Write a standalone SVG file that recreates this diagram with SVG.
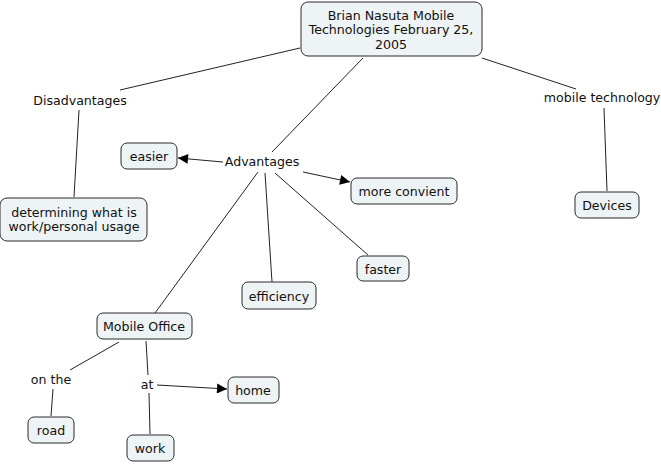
<svg xmlns="http://www.w3.org/2000/svg" width="661" height="464" viewBox="0 0 661 464">
<style>
.box{fill:#eef3f5;stroke:#2b2b2b;stroke-width:1}
text{font-family:"DejaVu Sans",Verdana,sans-serif;font-size:12.6px;fill:#111;text-anchor:middle}
.ln{stroke:#222;stroke-width:1;fill:none}
</style>
<defs>
<marker id="ah" viewBox="0 0 10 10" refX="10" refY="5" markerWidth="12" markerHeight="10" markerUnits="userSpaceOnUse" orient="auto">
<path d="M0,0 L10,5 L0,10 z" fill="#000"/>
</marker>
</defs>
<rect width="661" height="464" fill="#fff"/>
<g id="connectors">
<line class="ln" x1="300" y1="48" x2="120" y2="90"/>
<line class="ln" x1="363" y1="58" x2="272" y2="152"/>
<line class="ln" x1="482" y1="58" x2="576" y2="89"/>
<line class="ln" x1="79" y1="110" x2="74" y2="197"/>
<line class="ln" x1="223" y1="162" x2="178" y2="158" marker-end="url(#ah)"/>
<line class="ln" x1="303" y1="172" x2="350" y2="182" marker-end="url(#ah)"/>
<line class="ln" x1="258" y1="172" x2="155" y2="313"/>
<line class="ln" x1="265" y1="173" x2="272" y2="282"/>
<line class="ln" x1="275" y1="173" x2="368" y2="255"/>
<line class="ln" x1="604" y1="108" x2="607" y2="191"/>
<line class="ln" x1="119" y1="342" x2="70" y2="370"/>
<line class="ln" x1="53" y1="389" x2="51" y2="416"/>
<line class="ln" x1="146" y1="341" x2="148" y2="375"/>
<line class="ln" x1="149" y1="393" x2="150" y2="434"/>
<line class="ln" x1="157" y1="385" x2="227" y2="389" marker-end="url(#ah)"/>
</g>
<g id="n-title">
<rect class="box" x="301" y="2" width="181" height="54" rx="7"/>
<text x="391" y="20">Brian Nasuta Mobile</text>
<text x="391" y="34">Technologies February 25,</text>
<text x="391" y="49">2005</text>
</g>
<g id="n-disadvantages"><text x="80" y="105">Disadvantages</text></g>
<g id="n-determining">
<rect class="box" x="0" y="198" width="147" height="43" rx="7"/>
<text x="74" y="217">determining what is</text>
<text x="74" y="231">work/personal usage</text>
</g>
<g id="n-easier"><rect class="box" x="121" y="143" width="56" height="26" rx="6"/><text x="149" y="161">easier</text></g>
<g id="n-advantages"><text x="262" y="166">Advantages</text></g>
<g id="n-convient"><rect class="box" x="351" y="178" width="106" height="26" rx="6"/><text x="404" y="196">more convient</text></g>
<g id="n-efficiency"><rect class="box" x="242" y="282" width="74" height="27" rx="6"/><text x="279" y="301">efficiency</text></g>
<g id="n-faster"><rect class="box" x="357" y="256" width="52" height="25" rx="6"/><text x="383" y="274">faster</text></g>
<g id="n-mobiletech"><text x="602" y="102">mobile technology</text></g>
<g id="n-devices"><rect class="box" x="575" y="192" width="64" height="26" rx="6"/><text x="607" y="210">Devices</text></g>
<g id="n-mobileoffice"><rect class="box" x="97" y="313" width="95" height="26" rx="6"/><text x="144" y="331">Mobile Office</text></g>
<g id="n-onthe"><text x="51" y="384">on the</text></g>
<g id="n-at"><text x="147" y="389">at</text></g>
<g id="n-home"><rect class="box" x="228" y="377" width="51" height="26" rx="6"/><text x="253" y="395">home</text></g>
<g id="n-road"><rect class="box" x="28" y="417" width="46" height="26" rx="6"/><text x="51" y="435">road</text></g>
<g id="n-work"><rect class="box" x="127" y="435" width="47" height="26" rx="6"/><text x="150" y="453">work</text></g>
</svg>
